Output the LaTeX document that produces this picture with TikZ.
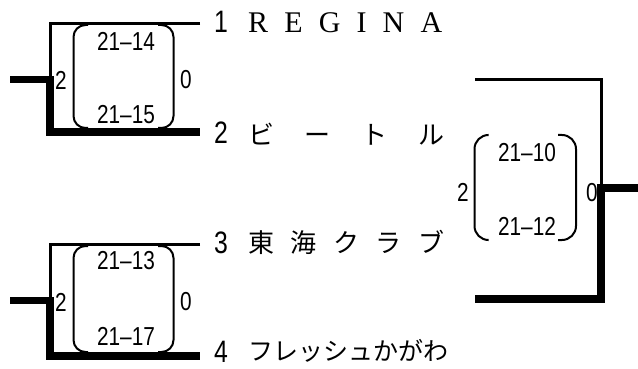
\documentclass[tikz,border=0pt]{standalone}
\usepackage{fontspec}
\setmainfont{Liberation Serif}
\newfontfamily\numfont[FakeStretch=0.8]{Liberation Sans}
\newfontfamily\jpfont{Noto Sans CJK JP}
\tikzset{
  thin line/.style={line width=3pt},
  win line/.style={line width=7.5pt},
  paren/.style={line width=2pt, rounded corners=12pt},
  score/.style={inner sep=0pt, font=\numfont\fontsize{26}{26}\selectfont},
  seed/.style={inner sep=0pt, anchor=base, font=\numfont\fontsize{31}{31}\selectfont},
  team/.style={inner sep=0pt, anchor=base west, font=\jpfont\fontsize{26}{26}\selectfont},
}
\begin{document}
\begin{tikzpicture}[x=1pt, y=-1pt]
      \useasboundingbox (0,0) rectangle (638,369);
      \coordinate (e1) at (200,23.7);
      \coordinate (e2) at (200,132);
      \coordinate (e3) at (200,244.7);
      \coordinate (e4) at (200,356);
      \coordinate (j1) at (50,79.5);
      \coordinate (j2) at (50,300.5);
      \coordinate (s1) at (10,79.5);
      \coordinate (s2) at (10,300.5);
      \coordinate (f1) at (475,80);
      \coordinate (f2) at (475,299);
      \coordinate (j3) at (601,188);
      \coordinate (s3) at (638,188);
      \draw
        (221,33) node[seed] (n1){1}
        (221,143) node[seed] (n2){2}
        (221,253) node[seed] (n3){3}
        (221,362) node[seed] (n4){4};
      \draw
        (248,33) node[team, font=\fontsize{30}{30}\selectfont] (t1){\makebox[194pt][s]{R E G I N A}}
        (248,144) node[team] (t2){\makebox[196pt][s]{ビ ー ト ル}}
        (248,252) node[team] (t3){\makebox[196pt][s]{東 海 ク ラ ブ}}
        (248,360) node[team, font=\jpfont\fontsize{25}{25}\selectfont] (t4){フレッシュかがわ};
      \draw
        (126,41) node[score] (a1){21–14}
        (126,115) node[score] (b1){21–15}
        (61,80) node[score] (w1){2}
        (186,80) node[score] (l1){0}
        (126,261) node[score] (a2){21–13}
        (126,336) node[score] (b2){21–17}
        (61,302) node[score] (w2){2}
        (186,302) node[score] (l2){0}
        (527,152.5) node[score] (a3){21–10}
        (527,226) node[score] (b3){21–12}
        (463,192.5) node[score] (w3){2}
        (592,192.5) node[score] (l3){0};
      \begin{scope}[paren]
        \draw (88,25) -- (73.5,25) -- (73.5,128) -- (88,128);
        \draw (158,25) -- (173.5,25) -- (173.5,128) -- (158,128);
        \draw (88,246) -- (73.5,246) -- (73.5,352) -- (88,352);
        \draw (158,246) -- (173.5,246) -- (173.5,352) -- (158,352);
        \draw[rounded corners=14pt] (488,135) -- (474.5,135) -- (474.5,240) -- (488,240);
        \draw[rounded corners=14pt] (558,135) -- (576,135) -- (576,240) -- (558,240);
      \end{scope}
      \begin{scope}[thin line]
        \draw (e1) -| (j1);
        \draw (e3) -| (j2);
        \draw (f1) -| (j3);
      \end{scope}
      \begin{scope}[win line]
        \draw (s1) -- (j1) |- (e2);
        \draw (s2) -- (j2) |- (e4);
        \draw (f2) -| (j3) -- (s3);
      \end{scope}
    \end{tikzpicture}
\end{document}
